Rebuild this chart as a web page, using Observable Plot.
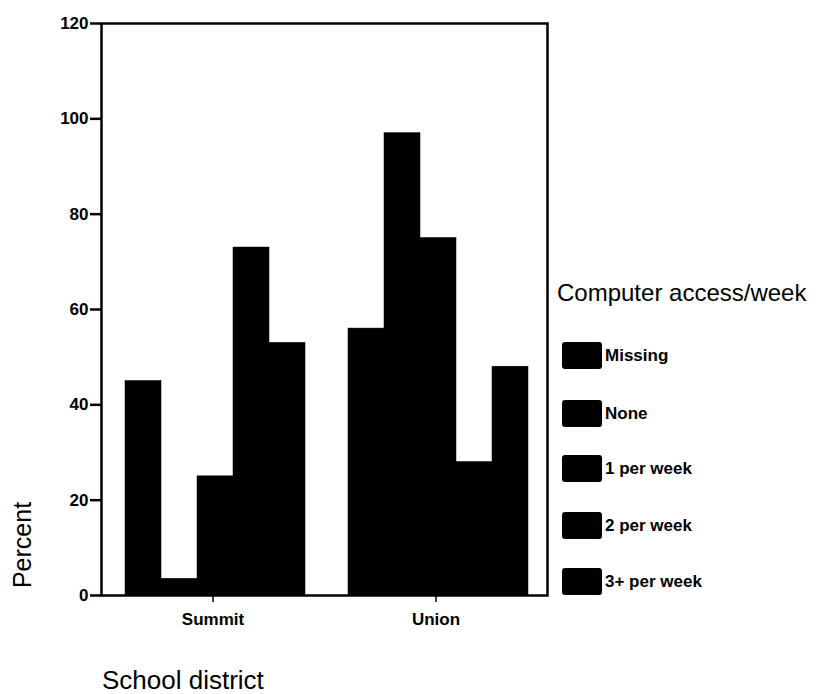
<!DOCTYPE html>
<html>
<head>
<meta charset="utf-8">
<script src="https://cdn.jsdelivr.net/npm/d3@7"></script>
<script src="https://cdn.jsdelivr.net/npm/@observablehq/plot@0.6"></script>
<style>
  body { margin: 0; background: #fff; font-family: "Liberation Sans", Arial, sans-serif; }
  #wrap { position: relative; width: 828px; height: 694px; overflow: hidden; background: #fff; }
  #chart { position: absolute; left: 0; top: 0; }
  .lbl { position: absolute; color: #000; white-space: nowrap; line-height: 1; }
  #ylabel { left: 22px; top: 545px; font-size: 25px; transform: translate(-50%, -50%) rotate(-90deg); }
  #xlabel { left: 102px; top: 667px; font-size: 26px; }
  #legend { position: absolute; left: 0; top: 0; width: 828px; height: 694px; pointer-events: none; }
  #legend .title { position: absolute; left: 557px; top: 281px; font-size: 24px; line-height: 1; white-space: nowrap; }
  #legend .row { position: absolute; left: 562px; display: flex; align-items: center; height: 27px; }
  #legend .sw { width: 40px; height: 27px; background: #000; border-radius: 3px; }
  #legend .txt { font-size: 17px; font-weight: bold; margin-left: 3px; white-space: nowrap; }
</style>
</head>
<body>
<div id="wrap">
  <div id="chart"></div>
  <div class="lbl" id="ylabel">Percent</div>
  <div class="lbl" id="xlabel">School district</div>
  <div id="legend"></div>
</div>
<script>
const districts = ["Summit", "Union"];
const categories = ["Missing", "None", "1 per week", "2 per week", "3+ per week"];
const summitValues = [45, 3.5, 25, 73, 53];
const unionValues = [56, 97, 75, 28, 48];
const yTicks = [0, 20, 40, 60, 80, 100, 120];
const legendTitle = "Computer access/week";

const seriesByDistrict = { Summit: summitValues, Union: unionValues };
const data = districts.flatMap(d =>
  categories.map((c, j) => ({ district: d, category: c, value: seriesByDistrict[d][j] }))
);

const font = '"Liberation Sans", Arial, sans-serif';

const chart = Plot.plot({
  width: 828,
  height: 694,
  marginLeft: 100,
  marginRight: 281,
  marginTop: 23,
  marginBottom: 99,
  style: { fontFamily: font, fontSize: "17px", color: "#000", background: "#fff" },
  fx: { domain: districts, padding: 0, label: null },
  x: { domain: categories, paddingInner: 0, paddingOuter: 0.57, align: 0.547, axis: null },
  y: { domain: [0, 120], label: null },
  marks: [
    Plot.barY(data, { fx: "district", x: "category", y: "value", fill: "#000", stroke: "#000", strokeWidth: 0.5 }),
    Plot.frame({ facet: "super", stroke: "#000", strokeWidth: 2.5 }),
    Plot.axisY({ ticks: yTicks, tickSize: 11, tickPadding: 2, tickFormat: d3.format("d"), label: null, fontWeight: "bold", fontSize: 17, strokeWidth: 2.5 }),
    Plot.axisFx({ anchor: "bottom", tickSize: 7, tickPadding: 10, label: null, fontWeight: "bold", fontSize: 17, strokeWidth: 1.5 })
  ]
});
document.getElementById("chart").appendChild(chart);

// legend (HTML, built from the category list)
const legend = document.getElementById("legend");
const t = document.createElement("div");
t.className = "title";
t.textContent = legendTitle;
legend.appendChild(t);
const rowTops = [342, 400, 455, 512, 568];
categories.forEach((c, i) => {
  const row = document.createElement("div");
  row.className = "row";
  row.style.top = rowTops[i] + "px";
  const sw = document.createElement("div");
  sw.className = "sw";
  const tx = document.createElement("div");
  tx.className = "txt";
  tx.textContent = c;
  row.appendChild(sw);
  row.appendChild(tx);
  legend.appendChild(row);
});
</script>
</body>
</html>
